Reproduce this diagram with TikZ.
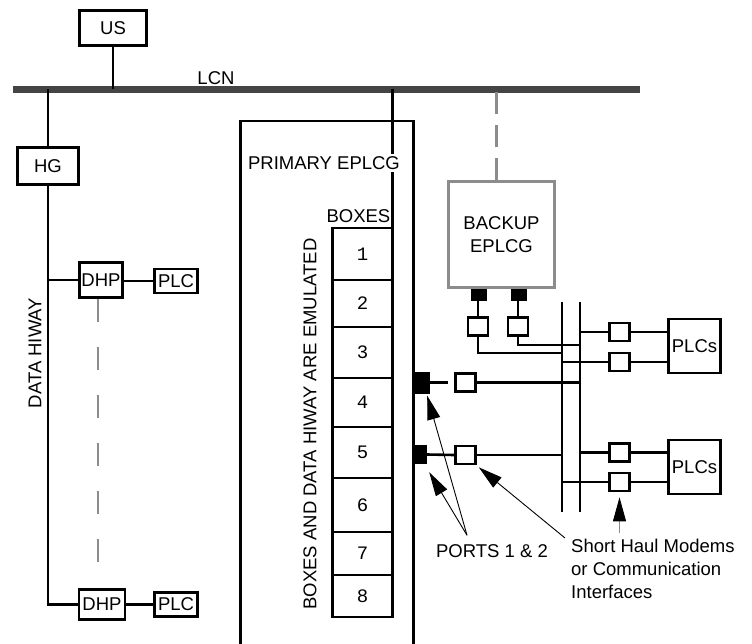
\documentclass[tikz,border=0pt]{standalone}
\usepackage{fontspec}
\setmainfont{Liberation Sans}
\newfontfamily\digitfont{Liberation Mono}
\usepackage{tikz}
\usetikzlibrary{arrows.meta, positioning}

\definecolor{buscolor}{HTML}{444444}
\definecolor{dimgray}{HTML}{8C8C8C}

\begin{document}
\begin{tikzpicture}[
    x=1pt, y=-1pt,
    font=\fontsize{18.5}{23}\selectfont,
    every node/.style={inner sep=1pt},
    blk/.style={rectangle, draw, line width=2.6pt, align=center},
    cell/.style={rectangle, draw, line width=2.6pt, outer sep=0pt,
                 minimum width=60pt, font=\digitfont\fontsize{19}{22}\selectfont},
    modem/.style={rectangle, draw, line width=2.6pt, minimum width=20pt,
                  minimum height=18pt, inner sep=0pt},
    port/.style={rectangle, fill=black, inner sep=0pt},
    wire/.style={line width=2.6pt},
    lcn/.style={line width=7pt, draw=buscolor},
    gapline/.style={line width=2.6pt, draw=dimgray, dash pattern=on 23pt off 25pt},
    backline/.style={line width=2.6pt, draw=dimgray, dash pattern=on 22pt off 11pt},
    pointer/.style={-{Triangle[length=24pt, width=13pt]}, line width=0.9pt}
  ]
  \useasboundingbox (0,0) rectangle (752,643);

  % LCN and upper nodes
  \coordinate (lcnL) at (13,89);
  \coordinate (lcnR) at (640,89);
  \draw[lcn] (lcnL) -- (lcnR);
  \node (lcnlabel) at (216,78) {LCN};

  \node[blk, minimum width=67pt, minimum height=35pt] (us) at (113,28) {US};
  \draw[wire] (us.south) -- (us.south |- lcnL);

  % data hiway side
  \node[blk, minimum width=61pt, minimum height=37pt] (hg) at (48,166) {HG};
  \node[blk, minimum width=43pt, minimum height=35pt] (dhpA) at (101,280) {DHP};
  \node[blk, minimum width=43pt, minimum height=24pt] (plcA) at (176,281) {PLC};
  \node[blk, minimum width=46pt, minimum height=30pt] (dhpB) at (102,604.5) {DHP};
  \node[blk, minimum width=43pt, minimum height=24pt] (plcB) at (176,604.5) {PLC};
  \coordinate (hwyend) at (hg.south |- dhpB.west);
  \coordinate (gapend) at (98,562);

  \draw[wire] (hg.north) -- (hg.north |- lcnL);
  \draw[wire] (hg.south) -- (hwyend) -- (dhpB.west);
  \draw[wire] (dhpA.west -| hg.south) -- (dhpA.west);
  \draw[wire] (dhpA.east |- plcA.west) -- (plcA.west);
  \draw[wire] (dhpB.east) -- (plcB.west);
  \draw[gapline] (dhpA.south -| gapend) -- (gapend);
  \node[rotate=90] (hwylabel) at (35,353) {DATA HIWAY};

  % primary EPLCG
  \node[blk, minimum width=173pt, minimum height=540pt] (primary) at (327,391) {};
  \node[cell, minimum height=52pt] (box1) at (362.5,254) {1};
  \node[cell, minimum height=47pt, below=0pt of box1] (box2) {2};
  \node[cell, minimum height=51pt, below=0pt of box2] (box3) {3};
  \node[cell, minimum height=49pt, below=0pt of box3] (box4) {4};
  \node[cell, minimum height=51pt, below=0pt of box4] (box5) {5};
  \node[cell, minimum height=54pt, below=0pt of box5] (box6) {6};
  \node[cell, minimum height=43pt, below=0pt of box6] (box7) {7};
  \node[cell, minimum height=42pt, below=0pt of box7] (box8) {8};
  \draw[wire] (box1.north east) -- (box1.north east |- lcnL);
  \node[fill=white, inner sep=2pt] (primlabel) at (324,163) {PRIMARY EPLCG};
  \node[above left=4pt and 1pt of box1.north east] (boxeslabel) {BOXES};
  \node[rotate=90] (emullabel) at (310,424) {BOXES AND DATA HIWAY ARE EMULATED};

  % ports and modems
  \node[port, minimum width=16pt, minimum height=22pt] (port1) at (422,382.5) {};
  \node[port, minimum width=13pt, minimum height=19pt] (port2) at (420.5,454.5) {};
  \node[modem] (m1) at (465.5,382.5) {};
  \node[modem] (m2) at (465.5,455) {};
  \draw[wire] (port1.east) -- ([xshift=-6pt]m1.west);
  \draw[wire] (port2.east) -- (m2.west);

  \coordinate (bus1top) at (562,302);
  \coordinate (bus1bot) at (562,512);
  \coordinate (bus2top) at (580,302);
  \coordinate (bus2bot) at (580,512);
  \draw[wire] (bus1top) -- (bus1bot);
  \draw[wire] (bus2top) -- (bus2bot);
  \draw[wire] (m1.east) -- (m1.east -| bus2top);
  \draw[wire] (m2.east) -- (m2.east -| bus1top);

  % backup EPLCG
  \node[blk, draw=dimgray, minimum width=106pt, minimum height=106pt] (backup) at (501.5,234.5) {BACKUP\\EPLCG};
  \draw[backline] ([xshift=-5pt]backup.north) -- ([xshift=-5pt]backup.north |- lcnL);
  \node[port, minimum width=16pt, minimum height=12pt] (bp1) at (479,295) {};
  \node[port, minimum width=16pt, minimum height=12pt] (bp2) at (519,295) {};
  \node[modem] (bm1) at (478,326.5) {};
  \node[modem] (bm2) at (518,326.5) {};
  \draw[wire] (bm1.north) -- (bm1.north |- bp1.south);
  \draw[wire] (bm2.north) -- (bm2.north |- bp2.south);
  \coordinate (j1) at (562,353);
  \coordinate (j2) at (580,345);
  \draw[wire] (bm1.south) |- (j1);
  \draw[wire] (bm2.south) |- (j2);

  % PLCs on the right
  \node[blk, minimum width=52pt, minimum height=54pt] (plcsA) at (694.5,346) {PLCs};
  \node[blk, minimum width=52pt, minimum height=54pt] (plcsB) at (694.5,467) {PLCs};
  \node[modem] (rm1) at (619.5,332) {};
  \node[modem] (rm2) at (619.5,362) {};
  \node[modem] (rm3) at (619.5,452.5) {};
  \node[modem] (rm4) at (619.5,482) {};
  \draw[wire] (rm1.west -| bus2top) -- (rm1.west) (rm1.east) -- (rm1.east -| plcsA.west);
  \draw[wire] (rm2.west -| bus1top) -- (rm2.west) (rm2.east) -- (rm2.east -| plcsA.west);
  \draw[wire] (rm3.west -| bus2top) -- (rm3.west) (rm3.east) -- (rm3.east -| plcsB.west);
  \draw[wire] (rm4.west -| bus1top) -- (rm4.west) (rm4.east) -- (rm4.east -| plcsB.west);

  % labels and pointers
  \node (ports) at (492,551) {PORTS 1 \& 2};
  \node[anchor=north west, align=left] (shm) at (570,538) {Short Haul Modems\\or Communication\\Interfaces};

  \draw[pointer] ([shift={(-25pt,8pt)}]ports.north) -- ([xshift=-3pt, yshift=-2pt]port1.south east);
  \draw[pointer] ([shift={(-25pt,8pt)}]ports.north) -- ([xshift=2pt, yshift=-8pt]port2.south east);
  \draw[pointer] ([xshift=-5pt]shm.north west) -- ([shift={(2pt,-2pt)}]m2.south east);
  \draw[pointer, draw=dimgray, -{Triangle[length=24pt, width=13pt, color=black]}]
    ([yshift=5pt]rm4.south |- shm.north) -- ([yshift=-5pt]rm4.south);

\end{tikzpicture}
\end{document}
